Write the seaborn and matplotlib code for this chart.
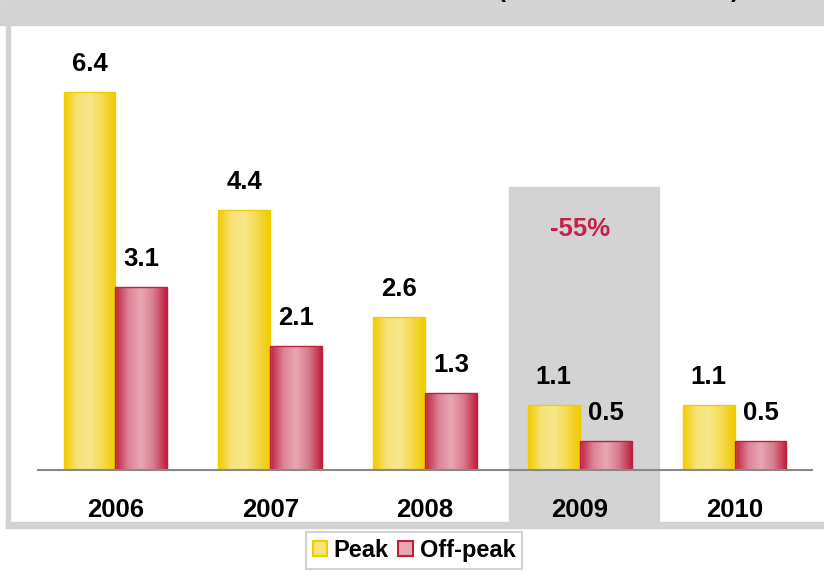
import numpy as np
import pandas as pd
import matplotlib
matplotlib.use("Agg")
import matplotlib.pyplot as plt
import seaborn as sns
from matplotlib.colors import LinearSegmentedColormap
from matplotlib.patches import Rectangle, Patch

# Data
years = ["2006", "2007", "2008", "2009", "2010"]
peak = [6.4, 4.4, 2.6, 1.1, 1.1]
off_peak = [3.1, 2.1, 1.3, 0.5, 0.5]
series_names = ["Peak", "Off-peak"]
highlight_year = "2009"
highlight_note = "-55%"

df = pd.DataFrame({
    "year": years * 2,
    "value": peak + off_peak,
    "series": [series_names[0]] * len(years) + [series_names[1]] * len(years),
})

sns.set_theme(style="white")
plt.rcParams["font.family"] = ["Liberation Sans", "DejaVu Sans"]

W, H = 824, 571
fig = plt.figure(figsize=(W / 100, H / 100), dpi=100)

GRAY = "#d3d3d3"
# outer frame: header band, left and bottom borders
fig.patches.append(Rectangle((0, 1 - 25 / H), 1, 25 / H, transform=fig.transFigure,
                             color=GRAY, zorder=0))
fig.patches.append(Rectangle((6 / W, 1 - 528 / H), 4 / W, (528 - 25) / H,
                             transform=fig.transFigure, color=GRAY, zorder=0))
fig.patches.append(Rectangle((6 / W, 1 - 528 / H), 1, 6 / H,
                             transform=fig.transFigure, color=GRAY, zorder=0))
# title is cut off at the top in the reference, only the bracket tails show
fig.text(618 / W, 1 + 9 / H, "(                                  )", ha="center", va="center",
         fontsize=17, fontweight="bold", color="black")

# axes placed in pixels: baseline at y=470, left 38, right 812
px_per_unit = 59.0
ymax = 7.5
ax_h = ymax * px_per_unit
ax = fig.add_axes([38 / W, 1 - 470 / H, (812 - 38) / W, ax_h / H])
ax.patch.set_alpha(0)

pal = {"Peak": "#f0cc00", "Off-peak": "#c0203f"}
sns.barplot(data=df, x="year", y="value", hue="series", palette=pal,
            width=0.67, ax=ax, legend=False, saturation=1, zorder=2)

ax.set_xlim(-0.5, len(years) - 0.5)
ax.set_ylim(0, ymax)

grad = {
    "Peak": LinearSegmentedColormap.from_list(
        "pk", ["#f0cc00", "#f7e27a", "#f8e88a", "#f5da50", "#f0cc00"]),
    "Off-peak": LinearSegmentedColormap.from_list(
        "op", ["#c0203f", "#dc8296", "#e8a7b4", "#d77b8e", "#c0203f"]),
}

n = len(years)
for i, bar in enumerate(ax.patches[: 2 * n]):
    s = series_names[i // n]
    x0, w, h = bar.get_x(), bar.get_width(), bar.get_height()
    img = ax.imshow(np.linspace(0, 1, 64).reshape(1, -1), cmap=grad[s], aspect="auto",
                    extent=[x0, x0 + w, 0, h], zorder=2, interpolation="bilinear")
    img.set_clip_path(bar)
    bar.set_facecolor("none")
    bar.set_edgecolor(pal[s])
    bar.set_linewidth(1)
    bar.set_zorder(3)
    ax.annotate(f"{h:.1f}", (x0 + w / 2, h), xytext=(0, 28), textcoords="offset pixels",
                ha="center", va="center", fontsize=18.5, fontweight="bold", color="black",
                zorder=4)

# highlighted year box
hi = years.index(highlight_year)
ax.add_patch(Rectangle((hi - 0.46, -0.9), 0.97, 4.8 + 0.9, color=GRAY, zorder=0,
                       clip_on=False))
ax.text(hi, 4.08, highlight_note, ha="center", va="center", fontsize=18.5,
        fontweight="bold", color="#c8204a", zorder=4)

ax.set_xlim(-0.5, len(years) - 0.5)
ax.set_ylim(0, ymax)
ax.set_yticks([])
ax.set_xlabel("")
ax.set_ylabel("")
ax.tick_params(axis="x", length=0, pad=20)
for lab in ax.get_xticklabels():
    lab.set_fontweight("bold")
    lab.set_fontsize(18.5)
    lab.set_color("black")
for side in ["top", "left", "right"]:
    ax.spines[side].set_visible(False)
ax.spines["bottom"].set_color("#888888")
ax.spines["bottom"].set_linewidth(1.5)
ax.spines["bottom"].set_zorder(5)

handles = [Patch(facecolor="#f8e27a", edgecolor="#f0cc00", linewidth=1.5),
           Patch(facecolor="#e8a7b4", edgecolor="#c0203f", linewidth=1.5)]
leg = fig.legend(handles, series_names, loc="upper center", ncol=2,
                 bbox_to_anchor=(414 / W, 1 - 532 / H), frameon=True, fancybox=False,
                 handlelength=0.6, handleheight=0.6, handletextpad=0.3, columnspacing=0.4,
                 borderpad=0.3, borderaxespad=0, labelcolor="black",
                 prop={"size": 17, "weight": "bold"})
leg.get_frame().set_edgecolor("#c8c8c8")
leg.get_frame().set_linewidth(1.5)

fig.savefig("out.png", dpi=100)
